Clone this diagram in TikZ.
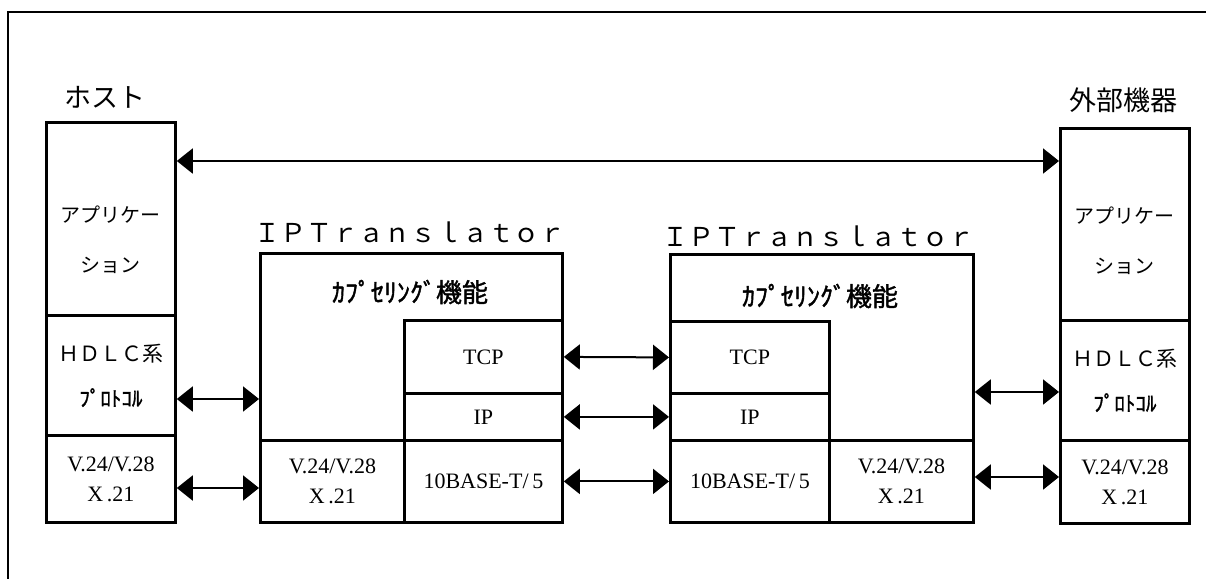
\documentclass[tikz,border=0pt]{standalone}
\usepackage{fontspec}
\setmainfont{Liberation Serif}
\newfontfamily\jpfont{Noto Sans CJK JP}
\newfontfamily\jpbold[FakeBold=1.5]{Noto Sans CJK JP}
\usetikzlibrary{arrows.meta}
\tikzset{
    common/.style={draw, line width=1.4pt, anchor=north west, inner sep=0pt, align=center},
    cell/.style={common, font=\fontsize{11}{15}\selectfont},
    layer/.style={common, font=\fontsize{11}{13}\selectfont},
    unit/.style={common},
    title/.style={font=\jpfont\fontsize{13.5}{15}\selectfont},
    iptitle/.style={font=\jpfont\fontsize{13}{15}\selectfont},
    apptext/.style={align=center, font=\jpfont\fontsize{10}{25}\selectfont},
    func/.style={font=\jpbold\fontsize{13}{15}\selectfont},
    conn/.style={line width=1pt, {Triangle[length=8pt,width=12.5pt]}-{Triangle[length=8pt,width=12.5pt]}},
    frame/.style={line width=1.4pt}
}

\begin{document}
\begin{tikzpicture}[x=0.5pt,y=-0.5pt]
              \useasboundingbox (0,0) rectangle (1206,579);
              \draw[frame] (1206,12) -- (8,12) -- (8,579);

              \node[title] (hostLabel) at (105,97) {ホスト};
              \node[unit, minimum width=64.5pt, minimum height=96.5pt] (hostApp) at (45,121) {};
              \node[cell, minimum width=64.5pt, minimum height=60pt, font=\fontsize{10.5}{22.5}\selectfont] (hostHdlc) at (45,314)
                  {\jpfont ＨＤＬＣ系\\\jpbold ﾌﾟﾛﾄｺﾙ};
              \node[cell, minimum width=64.5pt, minimum height=43.5pt] (hostLine) at (45,434) {V.24/V.28\\X\,.21};
              \node[apptext] (hostAppText) at ([yshift=-10.5pt]hostApp.center) {アプリケー\\ション};

              \node[title] (extLabel) at (1123,100) {外部機器};
              \node[unit, minimum width=64.5pt, minimum height=96pt] (extApp) at (1059,127) {};
              \node[cell, minimum width=64.5pt, minimum height=60pt, font=\fontsize{10.5}{22.5}\selectfont] (extHdlc) at (1059,319)
                  {\jpfont ＨＤＬＣ系\\\jpbold ﾌﾟﾛﾄｺﾙ};
              \node[cell, minimum width=64.5pt, minimum height=41.5pt] (extLine) at (1059,439) {V.24/V.28\\X\,.21};
              \node[apptext] (extAppText) at ([yshift=-8pt]extApp.center) {アプリケー\\ション};

              \node[iptitle] (ipaLabel) at (410,232) {ＩＰＴｒａｎｓｌａｔｏｒ};
              \node[unit, minimum width=151pt, minimum height=134.5pt] (ipaBox) at (259,252) {};
              \node[func] (ipaFunc) at (410,292) {ｶﾌﾟｾﾘﾝｸﾞ機能};
              \node[layer, minimum width=79pt, minimum height=36.5pt] (ipaTcp) at (403,319) {TCP};
              \node[layer, minimum width=79pt, minimum height=23.5pt] (ipaIp) at (403,392) {IP};
              \node[layer, minimum width=79pt, minimum height=41pt] (ipaEth) at (403,439) {10BASE-T/\,5};
              \node[cell, minimum width=72pt, minimum height=41pt] (ipaLine) at (259,439) {V.24/V.28\\X\,.21};

              \node[iptitle] (ipbLabel) at (818,236) {ＩＰＴｒａｎｓｌａｔｏｒ};
              \node[unit, minimum width=151.5pt, minimum height=134pt] (ipbBox) at (669,253) {};
              \node[func] (ipbFunc) at (820,296) {ｶﾌﾟｾﾘﾝｸﾞ機能};
              \node[layer, minimum width=79.5pt, minimum height=36pt] (ipbTcp) at (669,320) {TCP};
              \node[layer, minimum width=79.5pt, minimum height=23.5pt] (ipbIp) at (669,392) {IP};
              \node[layer, minimum width=79.5pt, minimum height=41pt] (ipbEth) at (669,439) {10BASE-T/\,5};
              \node[cell, minimum width=72pt, minimum height=41pt] (ipbLine) at (828,439) {V.24/V.28\\X\,.21};

              \draw[conn] (hostApp.east |- 0,161) -- (extApp.west |- 0,161);
              \draw[conn] (hostHdlc.east |- 0,399) -- (ipaBox.west |- 0,399);
              \draw[conn] (hostLine.east |- 0,488) -- (ipaLine.west |- 0,488);
              \draw[conn] (ipaTcp.east) -- (ipbTcp.west);
              \draw[conn] (ipaIp.east) -- (ipbIp.west);
              \draw[conn] (ipaEth.east) -- (ipbEth.west);
              \draw[conn] (ipbBox.east |- 0,392) -- (extHdlc.west |- 0,392);
              \draw[conn] (ipbLine.east |- 0,477) -- (extLine.west |- 0,477);

          \end{tikzpicture}
\end{document}
